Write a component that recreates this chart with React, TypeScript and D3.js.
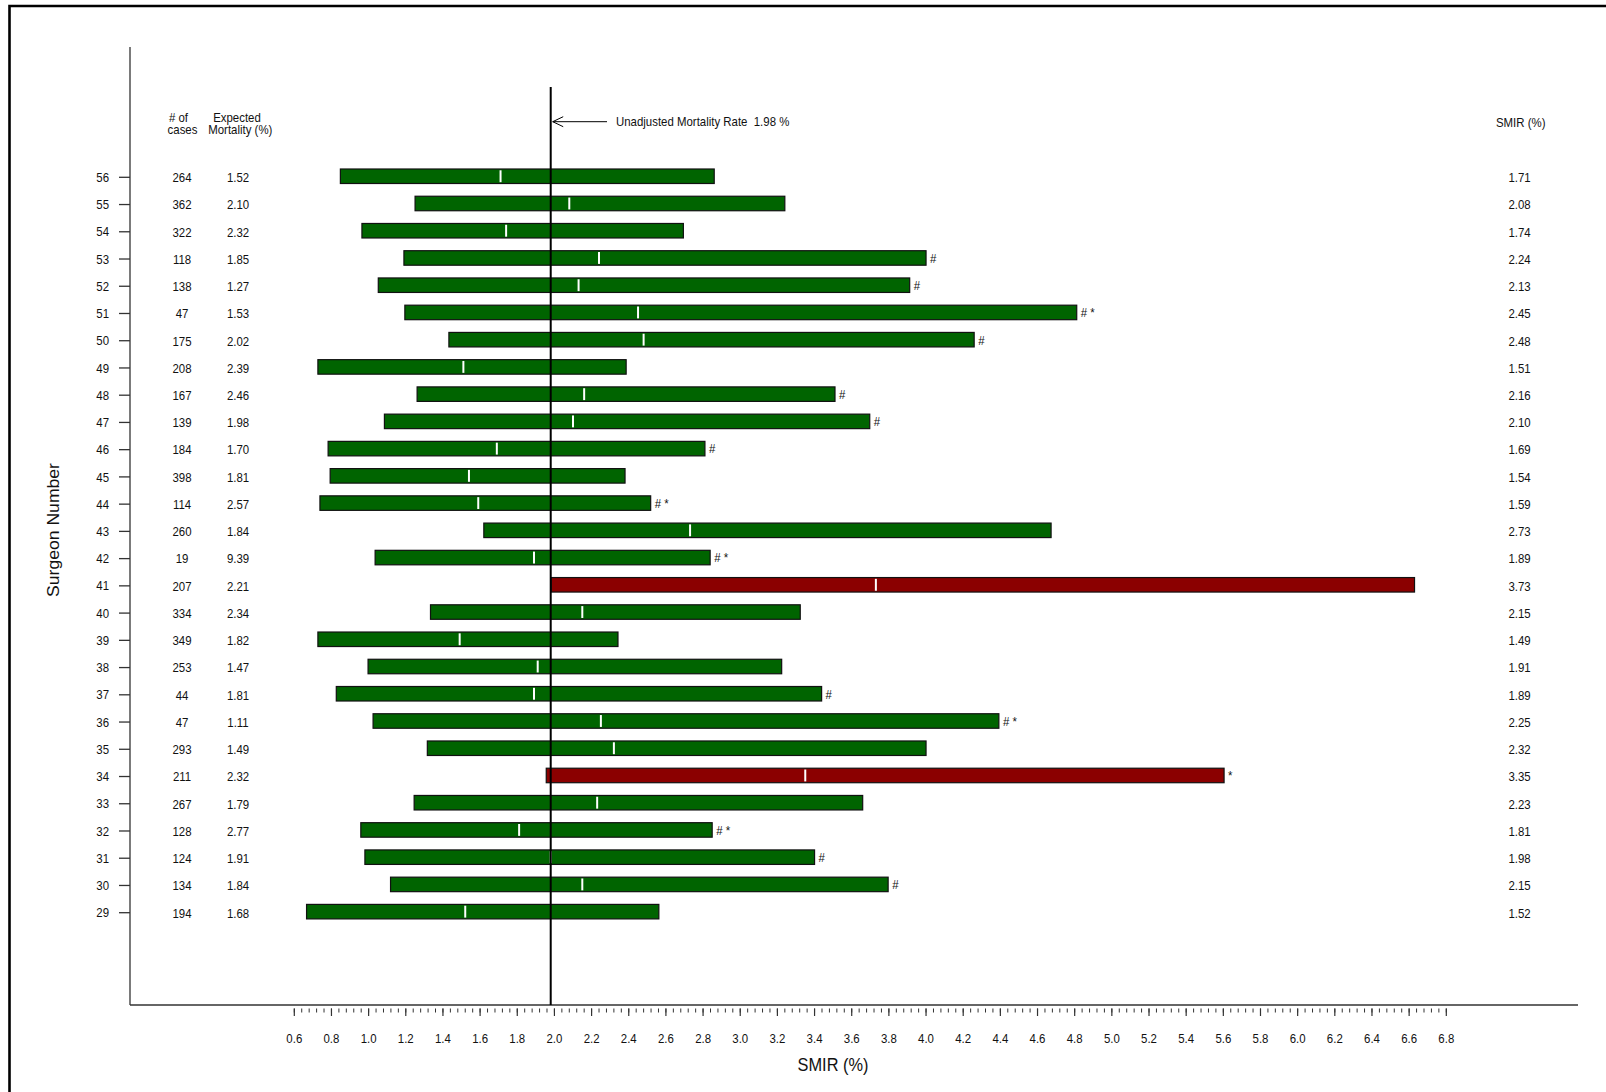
import React from 'react';
import * as d3 from 'd3';

// ---------- data ----------
const surgeons = [56, 55, 54, 53, 52, 51, 50, 49, 48, 47, 46, 45, 44, 43, 42, 41, 40, 39, 38, 37, 36, 35, 34, 33, 32, 31, 30, 29];
const cases = [264, 362, 322, 118, 138, 47, 175, 208, 167, 139, 184, 398, 114, 260, 19, 207, 334, 349, 253, 44, 47, 293, 211, 267, 128, 124, 134, 194];
const expectedMortality = ['1.52', '2.10', '2.32', '1.85', '1.27', '1.53', '2.02', '2.39', '2.46', '1.98', '1.70', '1.81', '2.57', '1.84', '9.39', '2.21', '2.34', '1.82', '1.47', '1.81', '1.11', '1.49', '2.32', '1.79', '2.77', '1.91', '1.84', '1.68'];
const smir = [1.71, 2.08, 1.74, 2.24, 2.13, 2.45, 2.48, 1.51, 2.16, 2.10, 1.69, 1.54, 1.59, 2.73, 1.89, 3.73, 2.15, 1.49, 1.91, 1.89, 2.25, 2.32, 3.35, 2.23, 1.81, 1.98, 2.15, 1.52];
const lowerCI = [0.848, 1.250, 0.964, 1.190, 1.052, 1.195, 1.432, 0.727, 1.261, 1.085, 0.782, 0.793, 0.738, 1.620, 1.035, 1.983, 1.333, 0.727, 0.997, 0.826, 1.024, 1.316, 1.956, 1.245, 0.958, 0.980, 1.118, 0.666];
const upperCI = [2.860, 3.240, 2.694, 4.000, 3.912, 4.811, 4.259, 2.386, 3.510, 3.697, 2.810, 2.380, 2.518, 4.673, 2.838, 6.629, 3.323, 2.342, 3.223, 3.438, 4.392, 4.000, 5.604, 3.659, 2.849, 3.400, 3.796, 2.562];
const flags = ['', '', '', '#', '#', '# *', '#', '', '#', '#', '#', '', '# *', '', '# *', '', '', '', '', '#', '# *', '', '*', '', '# *', '#', '#', ''];
const outliers = [41, 34];
const unadjustedRate = 1.98;
const xTickValues = d3.range(0, 32).map((i) => +(0.6 + i * 0.2).toFixed(1));
const xMinorValues = d3.range(0, 156).map((i) => +(0.6 + i * 0.04).toFixed(2));

// ---------- helpers ----------
const FONT = 'Liberation Sans, Arial, Helvetica, sans-serif';
const SQ = 0.93;

function Txt(props: { x: number; y: number; size?: number; anchor?: string; rot?: boolean; children: any }) {
  const { x, y, size = 12.3, anchor = 'middle', rot = false, children } = props;
  return (
    <text
      transform={`translate(${x},${y}) scale(${SQ},1)${rot ? ' rotate(-90)' : ''}`}
      textAnchor={anchor}
      fontSize={size}
      fontFamily={FONT}
      fill="#111"
    >
      {children}
    </text>
  );
}

export default function App() {
  const W = 1606;
  const H = 1092;
  const axisY = 1005;
  const axisX = 130;

  const x = d3.scaleLinear().domain([0.6, 6.8]).range([294.3, 1446.3]);
  const y = d3.scalePoint<number>().domain(surgeons).range([177.3, 912.7]);

  const barH = 14.5;
  const barOff = -8.3;
  const refX = x(unadjustedRate);

  return (
    <div style={{ position: 'absolute', left: 0, top: 0 }}>
      <svg width={W} height={H} style={{ display: 'block', background: '#fff' }}>
        <rect x={0} y={0} width={W} height={H} fill="#fff" />
        {/* frame */}
        <path d={`M9.5,${H} V6 H${W}`} fill="none" stroke="#000" strokeWidth={2.6} />

        {/* axes */}
        <line x1={axisX} x2={axisX} y1={47} y2={axisY} stroke="#333" strokeWidth={1.3} />
        <line x1={axisX} x2={1578} y1={axisY} y2={axisY} stroke="#333" strokeWidth={1.3} />

        {/* y ticks and labels */}
        {surgeons.map((s) => (
          <g key={'yt' + s}>
            <line x1={119} x2={axisX} y1={y(s)!} y2={y(s)!} stroke="#333" strokeWidth={1.3} />
            <Txt x={109} y={y(s)! + 4.6} anchor="end">{s}</Txt>
          </g>
        ))}

        {/* x ticks */}
        {xMinorValues.map((v) => (
          <line key={'mn' + v} x1={x(v)} x2={x(v)} y1={1008.5} y2={1012.5} stroke="#333" strokeWidth={1} />
        ))}
        {xTickValues.map((v) => (
          <g key={'mj' + v}>
            <line x1={x(v)} x2={x(v)} y1={1008.5} y2={1016} stroke="#333" strokeWidth={1.2} />
            <Txt x={x(v)} y={1043.3}>{d3.format('.1f')(v)}</Txt>
          </g>
        ))}

        {/* axis titles */}
        <Txt x={833} y={1071} size={17.6}>SMIR (%)</Txt>
        <Txt x={59} y={530} size={17.6} rot>Surgeon Number</Txt>

        {/* column headers */}
        <Txt x={178.5} y={121.5}># of</Txt>
        <Txt x={182.5} y={134}>cases</Txt>
        <Txt x={237} y={121.5}>Expected</Txt>
        <Txt x={240.3} y={134}>Mortality (%)</Txt>
        <Txt x={1520.7} y={126.5}>SMIR (%)</Txt>

        {/* table values */}
        {surgeons.map((s, i) => (
          <g key={'tv' + s}>
            <Txt x={182} y={y(s)! + 4.8}>{cases[i]}</Txt>
            <Txt x={238} y={y(s)! + 4.8}>{expectedMortality[i]}</Txt>
            <Txt x={1519.5} y={y(s)! + 4.8}>{d3.format('.2f')(smir[i])}</Txt>
          </g>
        ))}

        {/* bars */}
        {surgeons.map((s, i) => {
          const yy = y(s)! + barOff;
          const isOut = outliers.includes(s);
          const x0 = x(lowerCI[i]);
          const x1 = x(upperCI[i]);
          return (
            <g key={'bar' + s}>
              <rect x={x0} y={yy} width={x1 - x0} height={barH} fill={isOut ? '#8b0000' : '#006400'} stroke="#111" strokeWidth={1.2} />
              <line x1={x(smir[i])} x2={x(smir[i])} y1={yy + 1.3} y2={yy + barH - 1.3} stroke="#fff" strokeWidth={2} />
              {flags[i] && (
                <Txt x={x1 + 4} y={y(s)! + 3.8} anchor="start" size={12.3}>{flags[i].replace(' ', '\u00a0')}</Txt>
              )}
            </g>
          );
        })}

        {/* reference line */}
        <line x1={refX} x2={refX} y1={87} y2={axisY} stroke="#000" strokeWidth={2} />
        <line x1={refX + 2} x2={607} y1={121.7} y2={121.7} stroke="#000" strokeWidth={1} />
        <polyline points={`${refX + 12.5},116.7 ${refX + 2},121.7 ${refX + 12.5},126.7`} fill="none" stroke="#000" strokeWidth={1} />
        <Txt x={616} y={126} anchor="start">{'Unadjusted Mortality Rate\u00a0\u00a01.98 %'}</Txt>
      </svg>
    </div>
  );
}
